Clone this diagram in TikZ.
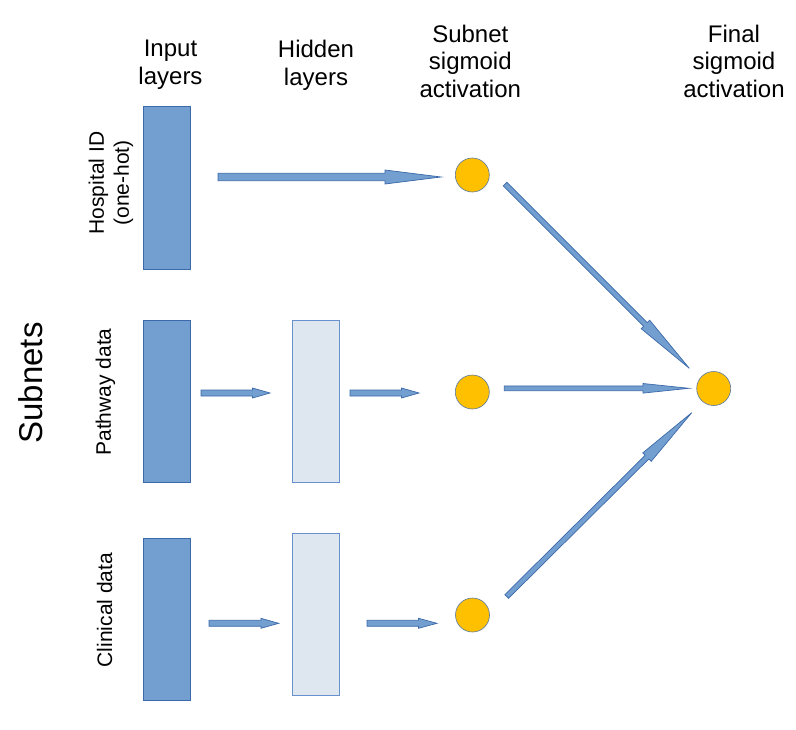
\documentclass[tikz,border=0pt]{standalone}
\usepackage{fontspec}
\setmainfont{Liberation Sans}
\usetikzlibrary{calc}
\definecolor{inblue}{RGB}{114,159,207}
\definecolor{edgeblue}{RGB}{60,105,170}
\definecolor{hidfill}{RGB}{222,230,240}
\definecolor{hidedge}{RGB}{105,145,205}
\definecolor{gold}{RGB}{255,192,0}
\definecolor{circedge}{RGB}{90,120,160}
\newcommand\blockarrow[5]{%
  \path[blockarrow] let \p1=($(#2)-(#1)$), \n1={atan2(\y1,\x1)}, \n2={veclen(\x1,\y1)} in
   [shift={(#1)}, rotate=\n1]
   (0pt,{-#3pt}) -- ({\n2-#5pt},{-#3pt}) -- ({\n2-#5pt},{-#4pt}) -- ({\n2},0pt)
   -- ({\n2-#5pt},{#4pt}) -- ({\n2-#5pt},{#3pt}) -- (0pt,{#3pt}) -- cycle;}
\tikzset{
  inputlayer/.style={draw=edgeblue, fill=inblue, line width=0.8pt, minimum width=47pt, minimum height=162pt, inner sep=0pt},
  hiddenlayer/.style={draw=hidedge, fill=hidfill, line width=0.8pt, minimum width=47pt, minimum height=162pt, inner sep=0pt},
  unit/.style={circle, draw=circedge, fill=gold, minimum size=34pt, inner sep=0pt, line width=0.6pt},
  blockarrow/.style={draw=edgeblue, fill=inblue, line width=0.7pt, line join=miter},
  header/.style={align=center, font=\fontsize{24}{27.5}\selectfont, anchor=north, inner sep=0pt},
  sidelabel/.style={rotate=90, align=center, font=\fontsize{21}{25}\selectfont, inner sep=0pt},
}
\begin{document}
\begin{tikzpicture}[x=1pt,y=1pt]
\useasboundingbox (0,0) rectangle (796,-729);
% layers
\node[inputlayer, minimum height=163pt] (in1) at (166.5,-187.5) {};
\node[inputlayer] (in2) at (166.5,-401) {};
\node[inputlayer] (in3) at (166.5,-619) {};
\node[hiddenlayer] (hid2) at (315.5,-401) {};
\node[hiddenlayer] (hid3) at (315.5,-614) {};
\node[unit] (c1) at (472.3,-175) {};
\node[unit] (c2) at (472.3,-392) {};
\node[unit] (c3) at (472.5,-615) {};
\node[unit] (cf) at (713.7,-388.5) {};
% headers
\node[header] (hin) at (170.5,-40) {Input\\layers};
\node[header] (hhid) at (316,-40) {Hidden\\layers};
\node[header] (hsub) at (470.3,-24.5) {Subnet\\sigmoid\\activation};
\node[header] (hfin) at (734,-24.5) {Final\\sigmoid\\activation};
% side labels
\node[sidelabel] (lhosp) at (111,-183) {Hospital ID\\(one-hot)};
\node[sidelabel] (lpath) at (105.5,-392) {Pathway data};
\node[sidelabel] (lclin) at (104.5,-610) {Clinical data};
\node[sidelabel, font=\fontsize{33}{38}\selectfont] (lsub) at (30.5,-383) {Subnets};
% arrow end points
\coordinate (a1s) at (218,-177);   \coordinate (a1e) at (441,-177);
\coordinate (a2s) at (201,-393);   \coordinate (a2e) at (270,-393);
\coordinate (a3s) at (350,-393);   \coordinate (a3e) at (419,-393);
\coordinate (a4s) at (209,-623.3); \coordinate (a4e) at (278.7,-623.3);
\coordinate (a5s) at (367,-623.3); \coordinate (a5e) at (437,-623.3);
\coordinate (a6s) at (505,-184);   \coordinate (a6e) at (689.3,-368.3);
\coordinate (a7s) at (504.3,-388.3); \coordinate (a7e) at (689,-388.3);
\coordinate (a8s) at (506.7,-596.5); \coordinate (a8e) at (691.7,-412.7);
% arrows
\blockarrow{a1s}{a1e}{3.7}{7}{56}
\blockarrow{a2s}{a2e}{3}{5}{17.5}
\blockarrow{a3s}{a3e}{3}{5}{17.5}
\blockarrow{a4s}{a4e}{3}{5}{17.7}
\blockarrow{a5s}{a5e}{3}{5}{18.5}
\blockarrow{a6s}{a6e}{2.6}{6}{62}
\blockarrow{a7s}{a7e}{2.4}{4.8}{46}
\blockarrow{a8s}{a8e}{2.6}{6}{63}
\end{tikzpicture}
\end{document}
